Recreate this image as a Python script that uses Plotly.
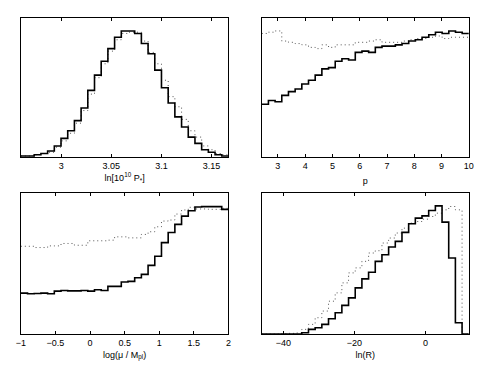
import numpy as np
import plotly.graph_objects as go
from plotly.subplots import make_subplots

# ---- panel 1: ln[10^10 P*] ----
p1_range = [2.9597, 3.1669]
p1_solid = [0.01, 0.01, 0.02, 0.03, 0.05, 0.09, 0.15, 0.21, 0.29, 0.39, 0.53, 0.65, 0.76, 0.86,
            0.95, 1.00, 1.00, 0.98, 0.90, 0.82, 0.69, 0.55, 0.43, 0.32, 0.24, 0.16, 0.11, 0.06,
            0.04, 0.02, 0.01]
p1_dotted = [0.01, 0.01, 0.02, 0.03, 0.04, 0.08, 0.13, 0.19, 0.27, 0.37, 0.50, 0.63, 0.74, 0.84,
             0.93, 0.98, 0.99, 0.99, 0.92, 0.83, 0.74, 0.61, 0.48, 0.40, 0.30, 0.21, 0.16, 0.09,
             0.06, 0.03, 0.02]
p1_ticks = [3, 3.05, 3.1, 3.15]

# ---- panel 2: p ----
p2_range = [2.41, 10]
p2_solid = [0.42, 0.45, 0.44, 0.49, 0.52, 0.54, 0.58, 0.61, 0.65, 0.70, 0.71, 0.76, 0.78, 0.77,
            0.83, 0.84, 0.83, 0.87, 0.88, 0.88, 0.89, 0.90, 0.92, 0.93, 0.95, 0.97, 0.99, 0.98,
            1.00, 0.99, 0.98]
p2_dotted = [0.98, 0.99, 1.00, 0.92, 0.91, 0.90, 0.89, 0.87, 0.86, 0.89, 0.87, 0.89, 0.89, 0.89,
             0.91, 0.91, 0.92, 0.93, 0.91, 0.91, 0.91, 0.92, 0.93, 0.94, 0.94, 0.95, 0.96, 0.94,
             0.95, 0.95, 0.95]
p2_ticks = [3, 4, 5, 6, 7, 8, 9, 10]

# ---- panel 3: log(mu / M_pl) ----
p3_range = [-1, 2]
p3_solid = [0.321, 0.316, 0.318, 0.321, 0.316, 0.337, 0.342, 0.339, 0.339, 0.342, 0.337, 0.347,
            0.342, 0.374, 0.374, 0.408, 0.413, 0.442, 0.468, 0.539, 0.611, 0.718, 0.797, 0.861,
            0.926, 0.968, 0.997, 1.000, 1.000, 1.000, 0.979]
p3_dotted = [0.689, 0.689, 0.679, 0.679, 0.692, 0.692, 0.711, 0.711, 0.697, 0.697, 0.732, 0.732,
             0.732, 0.737, 0.763, 0.763, 0.755, 0.755, 0.782, 0.803, 0.842, 0.887, 0.895, 0.942,
             0.974, 0.995, 0.982, 0.982, 0.979, 0.979, 0.987]
p3_ticks = [-1, -0.5, 0, 0.5, 1, 1.5, 2]

# ---- panel 4: ln(R) ----
p4_range = [-46.08, 12.17]
p4_hist_end = 10.26
p4_solid = [0, 0, 0, 0, 0, 0, 0.010, 0.036, 0.049, 0.075, 0.119, 0.166, 0.223, 0.282, 0.360,
            0.430, 0.482, 0.567, 0.619, 0.679, 0.723, 0.793, 0.860, 0.904, 0.922, 0.964, 1.000,
            0.873, 0.593, 0.088]
p4_dotted = [0, 0, 0, 0.003, 0.005, 0.008, 0.036, 0.075, 0.127, 0.179, 0.256, 0.321, 0.399,
             0.477, 0.516, 0.567, 0.632, 0.650, 0.710, 0.749, 0.788, 0.826, 0.865, 0.878, 0.896,
             0.917, 0.943, 0.969, 0.995, 0.969]
p4_ticks = [-40, -20, 0]

titles = ["ln[10<sup>10</sup> P<sub>*</sub>]", "p", "log(\u03bc / M<sub>pl</sub>)", "ln(R)"]
standoffs = [0, 7, 4, 4]
ymax = [1.10, 1.10, 1.105, 1.098]


def steps(lo, hi, vals, pad_to=None):
    edges = np.linspace(lo, hi, len(vals) + 1)
    x = list(edges[:-1]) + [edges[-1]]
    y = list(vals) + [vals[-1]]
    if pad_to is not None:
        x += [edges[-1], pad_to]
        y += [0, 0]
    return x, y


fig = make_subplots(rows=2, cols=2)

panels = [
    (1, 1, p1_range, p1_range[1], p1_solid, p1_dotted, p1_ticks),
    (1, 2, p2_range, p2_range[1], p2_solid, p2_dotted, p2_ticks),
    (2, 1, p3_range, p3_range[1], p3_solid, p3_dotted, p3_ticks),
    (2, 2, p4_range, p4_hist_end, p4_solid, p4_dotted, p4_ticks),
]

for i, (r, c, rng, hend, solid, dotted, ticks) in enumerate(panels):
    pad = rng[1] if hend < rng[1] else None
    xd, yd = steps(rng[0], hend, dotted, pad)
    xs, ys = steps(rng[0], hend, solid, pad)
    fig.add_trace(go.Scatter(x=xd, y=yd, mode="lines", line_shape="hv",
                             line=dict(color="#555", width=1, dash="1px,3px"),
                             showlegend=False, hoverinfo="skip"), row=r, col=c)
    fig.add_trace(go.Scatter(x=xs, y=ys, mode="lines", line_shape="hv",
                             line=dict(color="black", width=1.6),
                             showlegend=False, hoverinfo="skip"), row=r, col=c)
    fig.update_xaxes(range=rng, tickvals=ticks, ticks="inside", ticklen=3, tickcolor="black",
                     mirror="ticks", showline=True, linecolor="black", linewidth=1,
                     showgrid=False, zeroline=False,
                     title=dict(text=titles[i], standoff=standoffs[i], font=dict(size=9)),
                     row=r, col=c)
    fig.update_yaxes(range=[0, ymax[i]], showticklabels=False, ticks="", mirror=True,
                     showline=True, linecolor="black", linewidth=1, showgrid=False,
                     zeroline=False, row=r, col=c)

# the page body adds an 8px offset, so the figure is placed at (8, 8)
OFF = 8
W, H = 491 - OFF, 370 - OFF
lx = [(16 - OFF) / W, (228 - OFF) / W]
rx = [(262 - OFF) / W, (473.5 - OFF) / W]
ty = [1 - (157.3 - OFF) / H, 1 - (18.3 - OFF) / H]
by = [1 - (334 - OFF) / H, 1 - (193.3 - OFF) / H]
fig.update_layout(
    xaxis=dict(domain=lx), yaxis=dict(domain=ty),
    xaxis2=dict(domain=rx), yaxis2=dict(domain=ty),
    xaxis3=dict(domain=lx), yaxis3=dict(domain=by),
    xaxis4=dict(domain=rx), yaxis4=dict(domain=by),
    width=W, height=H,
    margin=dict(l=0, r=0, t=0, b=0),
    paper_bgcolor="white", plot_bgcolor="white",
    font=dict(family="Liberation Sans, Arial, sans-serif", size=9, color="black"),
)

fig.write_html("out.html")
